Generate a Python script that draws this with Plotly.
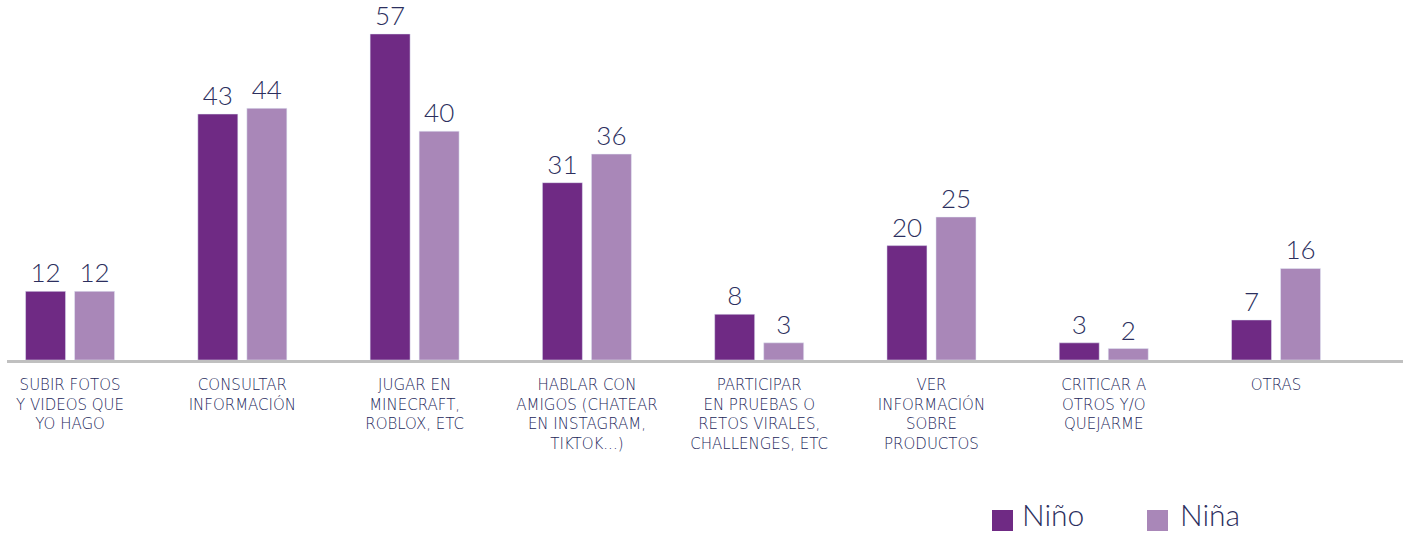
import plotly.graph_objects as go

categories = [
    "SUBIR FOTOS<br>Y VIDEOS QUE<br>YO HAGO",
    "CONSULTAR<br>INFORMACIÓN",
    "JUGAR EN<br>MINECRAFT,<br>ROBLOX, ETC",
    "HABLAR CON<br>AMIGOS (CHATEAR<br>EN INSTAGRAM,<br>TIKTOK...)",
    "PARTICIPAR<br>EN PRUEBAS O<br>RETOS VIRALES,<br>CHALLENGES, ETC",
    "VER<br>INFORMACIÓN<br>SOBRE<br>PRODUCTOS",
    "CRITICAR A<br>OTROS Y/O<br>QUEJARME",
    "OTRAS",
]
nino = [12, 43, 57, 31, 8, 20, 3, 7]
nina = [12, 44, 40, 36, 3, 25, 2, 16]
series_names = ["Niño", "Niña"]

C_NINO = "#6f2a84"
C_NINA = "#a987b8"
TXT = "#2c2f5e"
FONT = "Lato"
LABEL_FONT = "DejaVu Sans"

W, H = 1409, 535
ML, MR, MT, MB = 7, 6, 10, 175

fig = go.Figure()
for name, vals, col in [(series_names[0], nino, C_NINO), (series_names[1], nina, C_NINA)]:
    fig.add_trace(go.Bar(
        x=categories, y=vals, name=name, marker_color=col,
        text=[str(v) for v in vals], textposition="outside",
        textfont=dict(family=FONT, size=26, color=TXT, weight=300),
        cliponaxis=False, showlegend=False,
    ))

fig.update_layout(
    width=W, height=H,
    margin=dict(l=ML, r=MR, t=MT, b=MB),
    paper_bgcolor="white", plot_bgcolor="white",
    barmode="group", bargap=0.431, bargroupgap=0.184,
    font=dict(family=FONT, color=TXT),
    xaxis=dict(
        type="category", range=[-0.366, 7.737],
        showline=True, linecolor="#c0c0c0", linewidth=3,
        showgrid=False, ticks="", zeroline=False,
        ticklabelstandoff=9,
        tickfont=dict(family=LABEL_FONT, size=15, color="#23275a", weight=200),
    ),
    yaxis=dict(range=[0, 350 / 5.72], visible=False, showgrid=False, zeroline=False),
)

# legend drawn below the chart, bottom right
pw = W - ML - MR
ph = H - MT - MB

def px_x(p):
    return (p - ML) / pw

def px_y(p):
    return (H - MB - p) / ph

legend_items = [(series_names[0], C_NINO, 992, 1020), (series_names[1], C_NINA, 1147, 1178)]
for name, col, sx, tx in legend_items:
    fig.add_shape(type="rect", xref="paper", yref="paper",
                  x0=px_x(sx), x1=px_x(sx + 21), y0=px_y(531), y1=px_y(510),
                  fillcolor=col, line_width=0)
    fig.add_annotation(x=px_x(tx), y=px_y(514), xref="paper", yref="paper",
                       text=name, showarrow=False, xanchor="left", yanchor="middle",
                       font=dict(family=FONT, size=30, color=TXT, weight=300))

fig.write_html("out.html")
